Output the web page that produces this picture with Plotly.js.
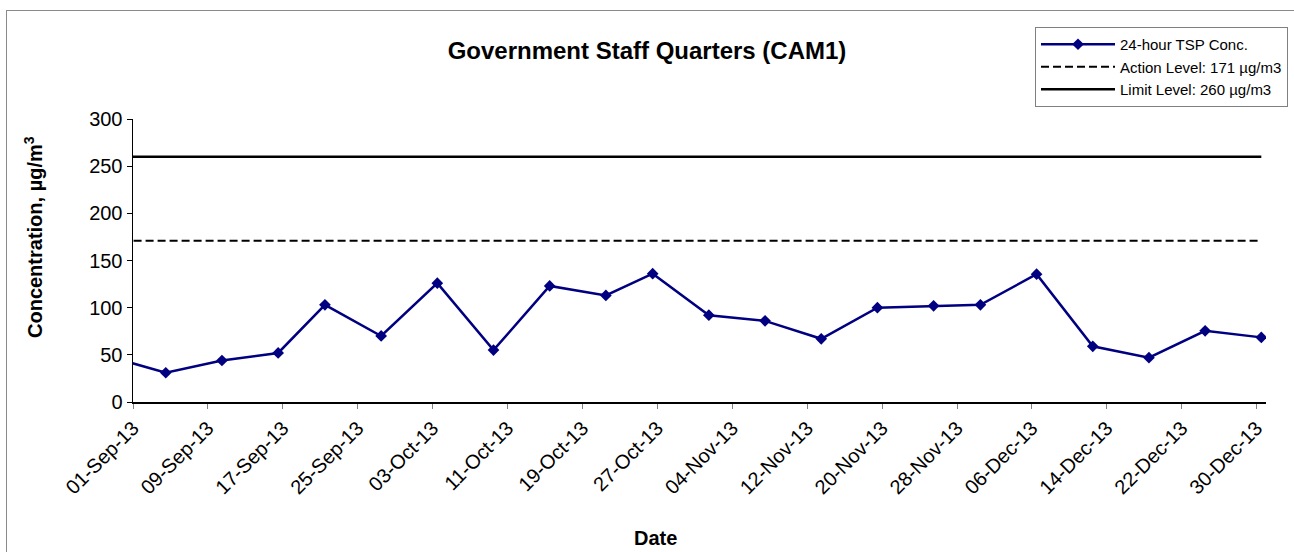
<!DOCTYPE html>
<html>
<head>
<meta charset="utf-8">
<script src="https://cdn.plot.ly/plotly-3.0.1.min.js"></script>
<style>
  html, body { margin: 0; padding: 0; overflow: hidden; background: #fff; }
  #chart { position: absolute; left: 0; top: 0; width: 1294px; height: 552px; }
  #frame { position: absolute; left: 6px; top: 10px; width: 1400px; height: 700px;
           border: 1px solid #8a8a8a; pointer-events: none; }
</style>
</head>
<body>
<div id="chart"></div>
<div id="frame"></div>
<script>
// Sampling dates (24-hour TSP), first one lies before the axis start and is clipped
const sampleDates = [
  "2013-08-29", "2013-09-04", "2013-09-10", "2013-09-16", "2013-09-21", "2013-09-27",
  "2013-10-03", "2013-10-09", "2013-10-15", "2013-10-21", "2013-10-26", "2013-11-01",
  "2013-11-07", "2013-11-13", "2013-11-19", "2013-11-25", "2013-11-30", "2013-12-06",
  "2013-12-12", "2013-12-18", "2013-12-24", "2013-12-30"
];
const tspConc = [
  48, 31, 44, 52, 103, 70,
  126, 55, 123, 113, 136, 92,
  86, 67, 100, 102, 103, 135.5,
  59, 47, 75.5, 68.5
];
const actionLevel = 171;
const limitLevel = 260;
const seriesNames = ["24-hour TSP Conc.", "Action Level: 171 \u00b5g/m3", "Limit Level: 260 \u00b5g/m3"];
const axisStart = "2013-09-01";
const axisEnd = "2013-12-31";

// Excel date axis centres each daily value in its day slot
const xs = sampleDates.map(d => d + " 12:00");
const actionY = sampleDates.map(() => actionLevel);
const limitY = sampleDates.map(() => limitLevel);

const FONT = "Liberation Sans, Arial, sans-serif";

const traces = [
  {
    x: xs, y: tspConc, name: seriesNames[0], type: "scatter", mode: "lines+markers",
    line: { color: "#000080", width: 2.5 },
    marker: { symbol: "diamond", size: 9, color: "#000080" },
    legendgroup: "a"
  },
  {
    x: xs, y: actionY, name: seriesNames[1], type: "scatter", mode: "lines",
    line: { color: "#000000", width: 2, dash: "8px,4px" },
    legendgroup: "b"
  },
  {
    x: xs, y: limitY, name: seriesNames[2], type: "scatter", mode: "lines",
    line: { color: "#000000", width: 2.5 },
    legendgroup: "c"
  }
];

const L = 133, R = 28, T = 119, B = 150;
const W = 1294, H = 552;
const pw = W - L - R, ph = H - T - B;
const px = v => (v - L) / pw;
const py = v => (H - B - v) / ph;

const layout = {
  width: W, height: H,
  margin: { l: L, r: R, t: T, b: B, autoexpand: false },
  paper_bgcolor: "#ffffff", plot_bgcolor: "#ffffff",
  font: { family: FONT, color: "#000", size: 20 },
  title: {
    text: "<b>Government Staff Quarters (CAM1)</b>",
    font: { family: FONT, size: 24, color: "#000" },
    xref: "container", x: 0.5, xanchor: "center",
    yref: "container", y: 1 - 51 / H, yanchor: "middle"
  },
  xaxis: {
    type: "date",
    range: [axisStart, axisEnd],
    tick0: axisStart, dtick: 8 * 86400000,
    tickformat: "%d-%b-%y",
    tickangle: -45,
    ticks: "outside", ticklen: 5, tickcolor: "#808080", tickwidth: 1,
    showline: true, linecolor: "#000", linewidth: 1.5,
    showgrid: false, zeroline: false,
    tickfont: { family: FONT, size: 20, color: "#000" }
  },
  yaxis: {
    range: [0, 300], dtick: 50,
    ticks: "outside", ticklen: 5, tickcolor: "#000", tickwidth: 1,
    showline: true, linecolor: "#000", linewidth: 1.5,
    showgrid: false, zeroline: false,
    tickfont: { family: FONT, size: 20, color: "#000" }
  },
  showlegend: true,
  legend: {
    xref: "container", yref: "container",
    x: 1035 / W, y: 1 - 27 / H, xanchor: "left", yanchor: "top",
    bgcolor: "#ffffff", bordercolor: "#808080", borderwidth: 1,
    font: { family: FONT, size: 15, color: "#000" },
    itemwidth: 74, tracegroupgap: 6, traceorder: "normal"
  },
  annotations: [
    {
      text: "<b>Concentration, \u00b5g/m<sup>3</sup></b>",
      xref: "paper", yref: "paper", x: px(33), y: py(237),
      xanchor: "center", yanchor: "middle", textangle: -90, showarrow: false,
      font: { family: FONT, size: 20, color: "#000" }
    },
    {
      text: "<b>Date</b>",
      xref: "paper", yref: "paper", x: px(655), y: py(538),
      xanchor: "center", yanchor: "middle", showarrow: false,
      font: { family: FONT, size: 20, color: "#000" }
    }
  ]
};

Plotly.newPlot("chart", traces, layout, { staticPlot: true, displayModeBar: false });
</script>
</body>
</html>
